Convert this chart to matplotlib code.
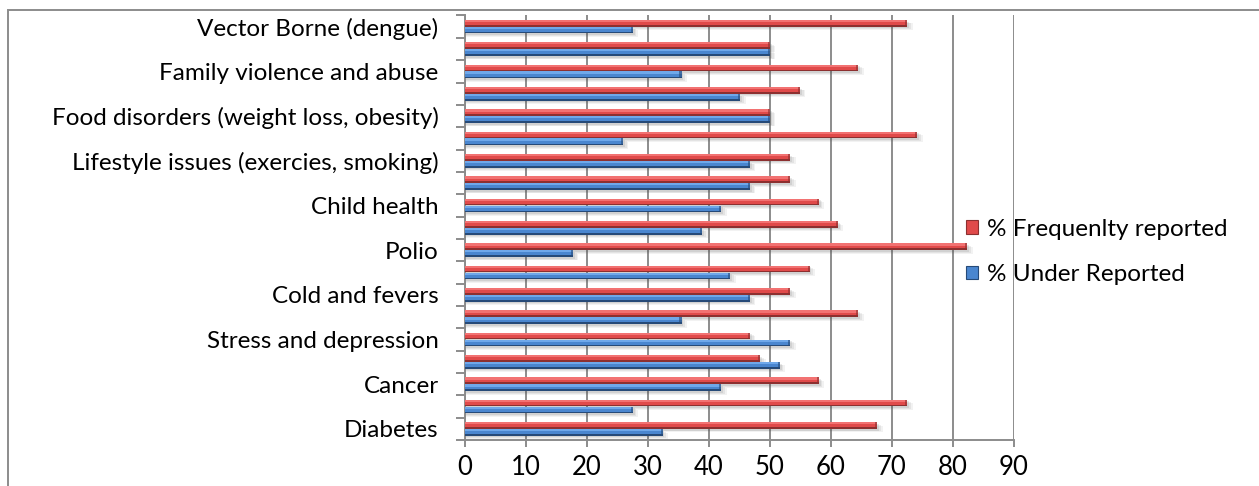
import matplotlib
matplotlib.use("Agg")
import matplotlib.pyplot as plt
import numpy as np
from matplotlib.patches import Rectangle

# Categories listed bottom to top; only every other one carries a printed label
tick_labels = [
    "Diabetes", "", "Cancer", "", "Stress and depression", "",
    "Cold and fevers", "", "Polio", "", "Child health", "",
    "Lifestyle issues (exercies, smoking)", "", "Food disorders (weight loss, obesity)", "",
    "Family violence and abuse", "", "Vector Borne (dengue)",
]
frequently_reported = [67.6, 72.5, 58.0, 48.4, 46.7, 64.5, 53.3, 56.5, 82.3, 61.1,
                       58.0, 53.3, 53.3, 74.1, 50.0, 54.9, 64.5, 50.0, 72.5]
under_reported = [32.4, 27.5, 42.0, 51.6, 53.3, 35.5, 46.7, 43.5, 17.7, 38.9,
                  42.0, 46.7, 46.7, 25.9, 50.0, 45.1, 35.5, 50.0, 27.5]
series_names = ["% Frequenlty reported", "% Under Reported"]
x_ticks = [0, 10, 20, 30, 40, 50, 60, 70, 80, 90]

plt.rcParams["font.family"] = ["Lato", "DejaVu Sans"]

W, H, DPI = 1259, 486, 100
fig = plt.figure(figsize=(W / DPI, H / DPI), dpi=DPI)
ax = fig.add_axes([465 / W, 1 - 440 / H, (1014 - 465) / W, (440 - 15.5) / H])

grid_col = "#8c8c8c"
y = np.arange(len(tick_labels))
bh = 0.3
off = 0.155

# colours: (highlight, body, shade)
red = ("#f27272", "#e04a4a", "#8c3030")
blue = ("#6fa8ea", "#4a86cf", "#264a78")


def bevel_bars(vals, ypos, cols):
    vals = np.asarray(vals)
    # soft drop shadow below and to the right
    for dy, dx, a in [(0.16, 0.9, 0.07), (0.12, 0.6, 0.09), (0.08, 0.3, 0.12)]:
        ax.barh(ypos - dy, vals + dx, height=bh, left=0, color="#505050",
                alpha=a, linewidth=0, zorder=2)
    ax.barh(ypos, vals, height=bh, color=cols[1], linewidth=0, zorder=3)
    ax.barh(ypos + bh * 0.33, vals, height=bh * 0.34, color=cols[0],
            linewidth=0, zorder=4)
    ax.barh(ypos - bh * 0.38, vals, height=bh * 0.24, color=cols[2],
            linewidth=0, zorder=4)
    # darker end cap
    ax.barh(ypos, np.full_like(vals, 0.35), left=vals - 0.35, height=bh,
            color=cols[2], alpha=0.6, linewidth=0, zorder=5)


bevel_bars(frequently_reported, y + off, red)
bevel_bars(under_reported, y - off, blue)

ax.set_xlim(0, 90)
ax.set_ylim(-0.5, len(tick_labels) - 0.5)

ax.set_xticks(x_ticks)
ax.set_xticklabels([str(t) for t in x_ticks], fontsize=18.5)
ax.xaxis.grid(True, color=grid_col, linewidth=1.4, zorder=1)
ax.set_axisbelow(True)

ax.set_yticks(y)
ax.set_yticklabels(tick_labels, fontsize=17.5, color="#000000")
ax.set_yticks(np.arange(-0.5, len(tick_labels)), minor=True)
ax.tick_params(axis="y", which="major", length=0, pad=19)
ax.tick_params(axis="y", which="minor", length=6.5, width=1.4, color=grid_col, direction="out")
ax.tick_params(axis="x", which="major", length=5, width=1.4, color=grid_col, direction="out", pad=6)

for side in ("top", "right"):
    ax.spines[side].set_visible(False)
for side in ("left", "bottom"):
    ax.spines[side].set_color(grid_col)
    ax.spines[side].set_linewidth(1.4)

# legend with small square keys
handles = [Rectangle((0, 0), 1, 1, facecolor=red[1], edgecolor=red[2], linewidth=0.8),
           Rectangle((0, 0), 1, 1, facecolor=blue[1], edgecolor=blue[2], linewidth=0.8)]
fig.legend(handles, series_names, loc="center left",
           bbox_to_anchor=(966 / W, 1 - 252 / H), frameon=False, fontsize=17.5,
           handlelength=0.5, handleheight=0.5, handletextpad=0.35, labelspacing=1.0,
           borderaxespad=0, borderpad=0)

# chart area border (right and bottom edges fall outside the image)
fig.patches.append(Rectangle((7.5 / W, -0.1), 1.2, 1 - 10 / H + 0.1,
                             transform=fig.transFigure, fill=False,
                             edgecolor=grid_col, linewidth=1.4))

fig.savefig("out.png", dpi=DPI)
